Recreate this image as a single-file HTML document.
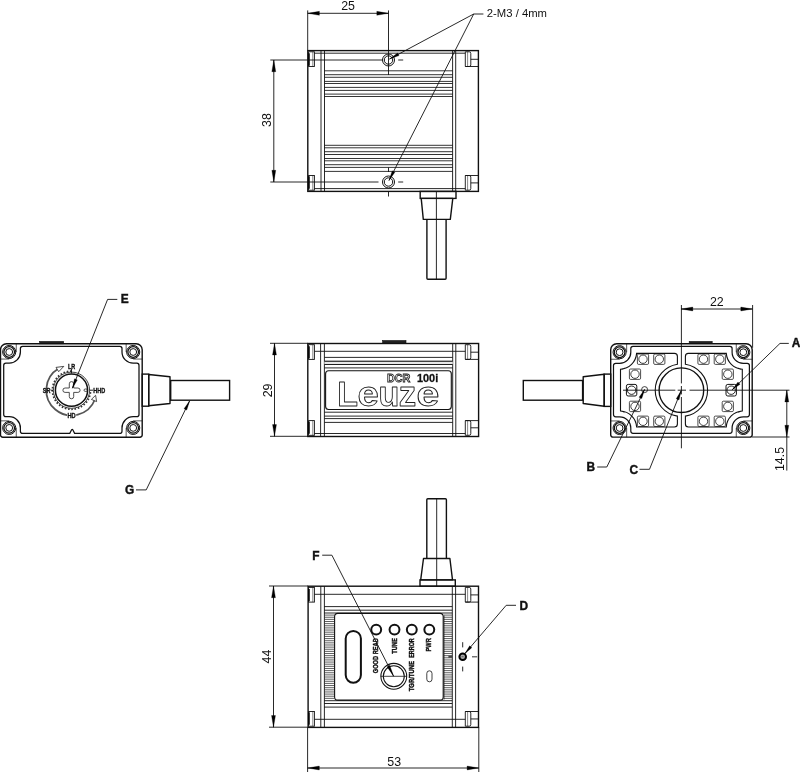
<!DOCTYPE html>
<html>
<head>
<meta charset="utf-8">
<title>DCR 100i dimensioned drawing</title>
<style>
html,body{margin:0;padding:0;background:#fff;}
body{width:800px;height:772px;overflow:hidden;font-family:"Liberation Sans",sans-serif;}
svg{display:block;will-change:transform;}
svg text{font-family:"Liberation Sans",sans-serif;}
</style>
</head>
<body>
<svg width="800" height="772" viewBox="0 0 800 772" shape-rendering="geometricPrecision">
<rect x="0" y="0" width="800" height="772" fill="#fff"/>
<rect x="307.80" y="50.60" width="170.60" height="140.80" rx="0" ry="0" stroke="#111" stroke-width="1.4" fill="none"/>
<line x1="321.00" y1="50.60" x2="321.00" y2="191.40" stroke="#111" stroke-width="0.9" />
<line x1="324.50" y1="50.60" x2="324.50" y2="191.40" stroke="#111" stroke-width="0.9" />
<line x1="452.60" y1="50.60" x2="452.60" y2="191.40" stroke="#111" stroke-width="0.9" />
<line x1="455.70" y1="50.60" x2="455.70" y2="191.40" stroke="#111" stroke-width="0.9" />
<line x1="314.40" y1="53.20" x2="465.30" y2="53.20" stroke="#111" stroke-width="0.9" />
<line x1="314.40" y1="188.60" x2="465.30" y2="188.60" stroke="#111" stroke-width="0.9" />
<line x1="324.50" y1="145.30" x2="452.60" y2="145.30" stroke="#111" stroke-width="0.85" />
<line x1="324.50" y1="147.80" x2="452.60" y2="147.80" stroke="#111" stroke-width="0.85" />
<line x1="324.50" y1="151.70" x2="452.60" y2="151.70" stroke="#111" stroke-width="0.85" />
<line x1="324.50" y1="154.50" x2="452.60" y2="154.50" stroke="#111" stroke-width="0.85" />
<line x1="324.50" y1="158.50" x2="452.60" y2="158.50" stroke="#111" stroke-width="0.85" />
<line x1="324.50" y1="160.80" x2="452.60" y2="160.80" stroke="#111" stroke-width="0.85" />
<line x1="324.50" y1="164.70" x2="452.60" y2="164.70" stroke="#111" stroke-width="0.85" />
<line x1="324.50" y1="167.40" x2="452.60" y2="167.40" stroke="#111" stroke-width="0.85" />
<line x1="324.50" y1="171.40" x2="452.60" y2="171.40" stroke="#111" stroke-width="0.85" />
<line x1="324.50" y1="70.80" x2="452.60" y2="70.80" stroke="#111" stroke-width="0.85" />
<line x1="324.50" y1="74.70" x2="452.60" y2="74.70" stroke="#111" stroke-width="0.85" />
<line x1="324.50" y1="77.30" x2="452.60" y2="77.30" stroke="#111" stroke-width="0.85" />
<line x1="324.50" y1="81.40" x2="452.60" y2="81.40" stroke="#111" stroke-width="0.85" />
<line x1="324.50" y1="83.50" x2="452.60" y2="83.50" stroke="#111" stroke-width="0.85" />
<line x1="324.50" y1="87.40" x2="452.60" y2="87.40" stroke="#111" stroke-width="0.85" />
<line x1="324.50" y1="90.40" x2="452.60" y2="90.40" stroke="#111" stroke-width="0.85" />
<line x1="324.50" y1="94.10" x2="452.60" y2="94.10" stroke="#111" stroke-width="0.85" />
<line x1="324.50" y1="96.50" x2="452.60" y2="96.50" stroke="#111" stroke-width="0.85" />
<rect x="308.60" y="51.80" width="5.80" height="14.70" rx="0" ry="0" stroke="#111" stroke-width="0.9" fill="none"/>
<line x1="309.00" y1="53.30" x2="309.00" y2="65.70" stroke="#000" stroke-width="1.5" />
<line x1="312.80" y1="51.80" x2="312.80" y2="66.50" stroke="#111" stroke-width="0.5" />
<path d="M465.3,51.80 H469.2 Q470.8,51.80 470.8,53.40 V64.90 Q470.8,66.50 469.2,66.50 H465.3 Z" stroke="#111" stroke-width="0.9" fill="none" />
<line x1="467.60" y1="51.80" x2="467.60" y2="66.50" stroke="#111" stroke-width="0.5" />
<line x1="470.80" y1="59.30" x2="478.40" y2="59.30" stroke="#111" stroke-width="0.9" />
<line x1="465.30" y1="66.50" x2="478.40" y2="66.50" stroke="#111" stroke-width="0.9" />
<rect x="308.60" y="175.50" width="5.80" height="14.70" rx="0" ry="0" stroke="#111" stroke-width="0.9" fill="none"/>
<line x1="309.00" y1="176.30" x2="309.00" y2="188.70" stroke="#000" stroke-width="1.5" />
<line x1="312.80" y1="175.50" x2="312.80" y2="190.20" stroke="#111" stroke-width="0.5" />
<path d="M465.3,175.50 H469.2 Q470.8,175.50 470.8,177.10 V188.60 Q470.8,190.20 469.2,190.20 H465.3 Z" stroke="#111" stroke-width="0.9" fill="none" />
<line x1="467.60" y1="175.50" x2="467.60" y2="190.20" stroke="#111" stroke-width="0.5" />
<line x1="470.80" y1="182.90" x2="478.40" y2="182.90" stroke="#111" stroke-width="0.9" />
<line x1="465.30" y1="175.50" x2="478.40" y2="175.50" stroke="#111" stroke-width="0.9" />
<circle cx="388.50" cy="60.00" r="6.00" stroke="#111" stroke-width="1.0" fill="none"/>
<circle cx="388.50" cy="60.00" r="4.20" stroke="#111" stroke-width="1.0" fill="none"/>
<line x1="398.20" y1="60.00" x2="403.20" y2="60.00" stroke="#111" stroke-width="0.9" />
<circle cx="388.50" cy="182.00" r="6.00" stroke="#111" stroke-width="1.0" fill="none"/>
<circle cx="388.50" cy="182.00" r="4.20" stroke="#111" stroke-width="1.0" fill="none"/>
<line x1="398.20" y1="182.00" x2="403.20" y2="182.00" stroke="#111" stroke-width="0.9" />
<line x1="388.50" y1="10.40" x2="388.50" y2="75.00" stroke="#111" stroke-width="0.9" />
<line x1="388.50" y1="167.50" x2="388.50" y2="172.00" stroke="#111" stroke-width="0.9" />
<line x1="388.50" y1="191.40" x2="388.50" y2="196.50" stroke="#111" stroke-width="0.9" />
<line x1="307.70" y1="10.40" x2="307.70" y2="50.60" stroke="#111" stroke-width="0.9" />
<line x1="270.30" y1="60.00" x2="382.40" y2="60.00" stroke="#111" stroke-width="0.9" />
<line x1="270.30" y1="182.00" x2="378.50" y2="182.00" stroke="#111" stroke-width="0.9" />
<line x1="307.70" y1="13.30" x2="388.50" y2="13.30" stroke="#111" stroke-width="0.9" />
<polygon points="307.70,13.30 319.40,11.35 319.40,15.25" fill="#000" stroke="#000" stroke-width="0.3"/>
<polygon points="388.50,13.30 376.80,15.25 376.80,11.35" fill="#000" stroke="#000" stroke-width="0.3"/>
<text x="348.10" y="10.40" font-size="12.4" text-anchor="middle" fill="#111" >25</text>
<line x1="273.80" y1="60.00" x2="273.80" y2="182.00" stroke="#111" stroke-width="0.9" />
<polygon points="273.80,60.00 275.75,71.70 271.85,71.70" fill="#000" stroke="#000" stroke-width="0.3"/>
<polygon points="273.80,182.00 271.85,170.30 275.75,170.30" fill="#000" stroke="#000" stroke-width="0.3"/>
<text x="271.00" y="120.00" font-size="12.4" text-anchor="middle" fill="#111" transform="rotate(-90 271.00 120.00)" >38</text>
<line x1="483.40" y1="14.00" x2="473.70" y2="14.00" stroke="#111" stroke-width="0.9" />
<line x1="473.70" y1="14.00" x2="389.50" y2="59.00" stroke="#111" stroke-width="0.9" />
<polygon points="389.50,59.00 397.61,52.96 399.03,55.61" fill="#000" stroke="#000" stroke-width="0.3"/>
<line x1="473.70" y1="14.00" x2="389.00" y2="180.50" stroke="#111" stroke-width="0.9" />
<polygon points="389.00,180.50 392.20,170.91 394.87,172.27" fill="#000" stroke="#000" stroke-width="0.3"/>
<text x="486.80" y="17.45" font-size="11.6" text-anchor="start" fill="#111" textLength="60.2" lengthAdjust="spacingAndGlyphs" >2-M3 / 4mm</text>
<rect x="420.20" y="191.40" width="35.80" height="7.00" rx="0" ry="0" stroke="#111" stroke-width="1.4" fill="none"/>
<polygon points="421.20,198.40 452.80,198.40 450.30,219.40 423.30,219.40" stroke="#111" stroke-width="1.4" fill="none" stroke-linejoin="round"/>
<path d="M426.9,219.4 V278.3 Q426.9,279.3 427.9,279.3 H445.1 Q446.1,279.3 446.1,278.3 V219.4" stroke="#111" stroke-width="1.4" fill="none" />
<line x1="436.40" y1="191.40" x2="436.40" y2="279.30" stroke="#111" stroke-width="0.9" />
<rect x="382.60" y="340.50" width="23.40" height="3.00" rx="0" ry="0" stroke="#111" stroke-width="0.6" fill="#222"/>
<rect x="307.80" y="343.50" width="170.80" height="93.00" rx="0" ry="0" stroke="#111" stroke-width="1.4" fill="none"/>
<line x1="320.60" y1="343.50" x2="320.60" y2="436.50" stroke="#111" stroke-width="0.9" />
<line x1="324.40" y1="343.50" x2="324.40" y2="436.50" stroke="#111" stroke-width="0.9" />
<line x1="452.70" y1="343.50" x2="452.70" y2="436.50" stroke="#111" stroke-width="0.9" />
<line x1="455.80" y1="343.50" x2="455.80" y2="436.50" stroke="#111" stroke-width="0.9" />
<line x1="324.40" y1="357.40" x2="452.70" y2="357.40" stroke="#111" stroke-width="0.9" />
<line x1="324.40" y1="361.30" x2="452.70" y2="361.30" stroke="#111" stroke-width="0.9" />
<line x1="324.40" y1="364.50" x2="452.70" y2="364.50" stroke="#111" stroke-width="0.9" />
<line x1="324.40" y1="367.90" x2="452.70" y2="367.90" stroke="#111" stroke-width="0.9" />
<line x1="324.40" y1="412.20" x2="452.70" y2="412.20" stroke="#111" stroke-width="0.9" />
<line x1="324.40" y1="416.10" x2="452.70" y2="416.10" stroke="#111" stroke-width="0.9" />
<line x1="324.40" y1="418.60" x2="452.70" y2="418.60" stroke="#111" stroke-width="0.9" />
<line x1="324.40" y1="422.40" x2="452.70" y2="422.40" stroke="#111" stroke-width="0.9" />
<rect x="324.40" y="361.30" width="128.30" height="3.20" rx="0" ry="0" stroke="none" stroke-width="0" fill="#e8e8e8"/>
<line x1="324.40" y1="361.30" x2="452.70" y2="361.30" stroke="#111" stroke-width="0.9" />
<line x1="324.40" y1="364.50" x2="452.70" y2="364.50" stroke="#111" stroke-width="0.9" />
<line x1="314.40" y1="351.30" x2="465.30" y2="351.30" stroke="#111" stroke-width="0.9" />
<line x1="314.40" y1="433.50" x2="465.30" y2="433.50" stroke="#111" stroke-width="0.9" />
<rect x="308.60" y="344.70" width="5.80" height="14.70" rx="0" ry="0" stroke="#111" stroke-width="0.9" fill="none"/>
<line x1="309.00" y1="346.20" x2="309.00" y2="358.60" stroke="#000" stroke-width="1.5" />
<line x1="312.80" y1="344.70" x2="312.80" y2="359.40" stroke="#111" stroke-width="0.5" />
<path d="M465.3,344.70 H469.2 Q470.8,344.70 470.8,346.30 V357.80 Q470.8,359.40 469.2,359.40 H465.3 Z" stroke="#111" stroke-width="0.9" fill="none" />
<line x1="467.60" y1="344.70" x2="467.60" y2="359.40" stroke="#111" stroke-width="0.5" />
<line x1="470.80" y1="352.20" x2="478.60" y2="352.20" stroke="#111" stroke-width="0.9" />
<line x1="465.30" y1="359.40" x2="478.60" y2="359.40" stroke="#111" stroke-width="0.9" />
<rect x="308.60" y="420.60" width="5.80" height="14.70" rx="0" ry="0" stroke="#111" stroke-width="0.9" fill="none"/>
<line x1="309.00" y1="421.40" x2="309.00" y2="433.80" stroke="#000" stroke-width="1.5" />
<line x1="312.80" y1="420.60" x2="312.80" y2="435.30" stroke="#111" stroke-width="0.5" />
<path d="M465.3,420.60 H469.2 Q470.8,420.60 470.8,422.20 V433.70 Q470.8,435.30 469.2,435.30 H465.3 Z" stroke="#111" stroke-width="0.9" fill="none" />
<line x1="467.60" y1="420.60" x2="467.60" y2="435.30" stroke="#111" stroke-width="0.5" />
<line x1="470.80" y1="427.80" x2="478.60" y2="427.80" stroke="#111" stroke-width="0.9" />
<line x1="465.30" y1="420.60" x2="478.60" y2="420.60" stroke="#111" stroke-width="0.9" />
<rect x="325.60" y="370.80" width="125.70" height="38.70" rx="3" ry="3" stroke="#111" stroke-width="1.1" fill="none"/>
<text x="337.18" y="405.75" font-size="35.0" font-weight="bold" textLength="20.72" lengthAdjust="spacingAndGlyphs" fill="#fff" stroke="#222" stroke-width="0.9" stroke-linejoin="round">L</text>
<text x="357.46" y="405.75" font-size="35.0" font-weight="bold" textLength="21.30" lengthAdjust="spacingAndGlyphs" fill="#fff" stroke="#222" stroke-width="0.9" stroke-linejoin="round">e</text>
<text x="378.53" y="405.75" font-size="35.0" font-weight="bold" textLength="20.87" lengthAdjust="spacingAndGlyphs" fill="#fff" stroke="#222" stroke-width="0.9" stroke-linejoin="round">u</text>
<text x="398.75" y="405.75" font-size="35.0" font-weight="bold" textLength="17.45" lengthAdjust="spacingAndGlyphs" fill="#fff" stroke="#222" stroke-width="0.9" stroke-linejoin="round">z</text>
<text x="416.45" y="405.75" font-size="35.0" font-weight="bold" textLength="22.80" lengthAdjust="spacingAndGlyphs" fill="#fff" stroke="#222" stroke-width="0.9" stroke-linejoin="round">e</text>
<text x="387.0" y="382.1" font-size="11.4" font-weight="bold" textLength="23.4" lengthAdjust="spacingAndGlyphs" fill="#fff" stroke="#222" stroke-width="0.85">DCR</text>
<text x="417.0" y="382.1" font-size="11.4" font-weight="bold" textLength="21.2" lengthAdjust="spacingAndGlyphs" fill="#111" stroke="#111" stroke-width="0.3">100i</text>
<line x1="270.00" y1="343.30" x2="307.80" y2="343.30" stroke="#111" stroke-width="0.9" />
<line x1="270.00" y1="436.30" x2="307.80" y2="436.30" stroke="#111" stroke-width="0.9" />
<line x1="274.50" y1="343.30" x2="274.50" y2="436.30" stroke="#111" stroke-width="0.9" />
<polygon points="274.50,343.30 276.45,355.00 272.55,355.00" fill="#000" stroke="#000" stroke-width="0.3"/>
<polygon points="274.50,436.30 272.55,424.60 276.45,424.60" fill="#000" stroke="#000" stroke-width="0.3"/>
<text x="272.20" y="390.40" font-size="12.4" text-anchor="middle" fill="#111" transform="rotate(-90 272.20 390.40)" >29</text>
<rect x="39.60" y="341.40" width="24.10" height="2.40" rx="0" ry="0" stroke="#111" stroke-width="0.6" fill="#222"/>
<path d="M6.50,343.80 H136.20 A6.0 6.0 0 0 1 142.20,349.80 V434.90 A2.3 2.3 0 0 1 139.90,437.20 H2.80 A2.3 2.3 0 0 1 0.50,434.90 V349.80 A6.0 6.0 0 0 1 6.50,343.80 Z" stroke="#111" stroke-width="1.4" fill="none" />
<path d="M22.60,346.40 H119.80 Q122.00,346.40 122.00,348.60 V352.00 A11.2 11.2 0 0 0 133.20,363.20 H136.80 Q139.00,363.20 139.00,365.40 V414.50 Q139.00,416.70 136.80,416.70 H133.20 A11.2 11.2 0 0 0 122.00,427.90 V431.20 Q122.00,433.40 119.80,433.40 H74.60 L72.80,429.80 Q72.20,429.00 71.60,429.80 L69.80,433.40 H22.60 Q20.40,433.40 20.40,431.20 V427.90 A11.2 11.2 0 0 0 9.20,416.70 H5.90 Q3.70,416.70 3.70,414.50 V365.40 Q3.70,363.20 5.90,363.20 H9.20 A11.2 11.2 0 0 0 20.40,352.00 V348.60 Q20.40,346.40 22.60,346.40 Z" stroke="#111" stroke-width="1.25" fill="none" />
<line x1="16.25" y1="343.80" x2="16.25" y2="352.00" stroke="#111" stroke-width="0.7" />
<line x1="0.50" y1="359.05" x2="9.20" y2="359.05" stroke="#111" stroke-width="0.7" />
<circle cx="9.20" cy="352.00" r="6.55" stroke="#111" stroke-width="1.0" fill="none"/>
<circle cx="9.20" cy="352.00" r="5.30" stroke="#111" stroke-width="1.25" fill="none"/>
<circle cx="9.20" cy="352.00" r="3.40" stroke="#111" stroke-width="1.0" fill="none"/>
<line x1="16.25" y1="437.20" x2="16.25" y2="427.90" stroke="#111" stroke-width="0.7" />
<line x1="0.50" y1="420.85" x2="9.20" y2="420.85" stroke="#111" stroke-width="0.7" />
<circle cx="9.20" cy="427.90" r="6.55" stroke="#111" stroke-width="1.0" fill="none"/>
<circle cx="9.20" cy="427.90" r="5.30" stroke="#111" stroke-width="1.25" fill="none"/>
<circle cx="9.20" cy="427.90" r="3.40" stroke="#111" stroke-width="1.0" fill="none"/>
<line x1="126.15" y1="343.80" x2="126.15" y2="352.00" stroke="#111" stroke-width="0.7" />
<line x1="142.20" y1="359.05" x2="133.20" y2="359.05" stroke="#111" stroke-width="0.7" />
<circle cx="133.20" cy="352.00" r="6.55" stroke="#111" stroke-width="1.0" fill="none"/>
<circle cx="133.20" cy="352.00" r="5.30" stroke="#111" stroke-width="1.25" fill="none"/>
<circle cx="133.20" cy="352.00" r="3.40" stroke="#111" stroke-width="1.0" fill="none"/>
<line x1="126.15" y1="437.20" x2="126.15" y2="427.90" stroke="#111" stroke-width="0.7" />
<line x1="142.20" y1="420.85" x2="133.20" y2="420.85" stroke="#111" stroke-width="0.7" />
<circle cx="133.20" cy="427.90" r="6.55" stroke="#111" stroke-width="1.0" fill="none"/>
<circle cx="133.20" cy="427.90" r="5.30" stroke="#111" stroke-width="1.25" fill="none"/>
<circle cx="133.20" cy="427.90" r="3.40" stroke="#111" stroke-width="1.0" fill="none"/>
<path d="M71.50,371.10 A19.1 19.1 0 1 0 90.60,390.20" stroke="#333" stroke-width="1.7" fill="none" stroke-dasharray="1.6 1.7"/>
<circle cx="71.50" cy="390.20" r="18.10" stroke="#111" stroke-width="0.8" fill="#fff"/>
<circle cx="71.50" cy="390.20" r="16.10" stroke="#111" stroke-width="1.5" fill="none"/>
<path d="M58.52,368.60 A25.2 25.2 0 1 0 95.03,399.23" stroke="#555" stroke-width="1.7" fill="none" />
<rect x="67.00" y="412.40" width="9.20" height="5.80" rx="0" ry="0" stroke="none" stroke-width="0" fill="#fff"/>
<polygon points="63.80,366.40 56.00,367.40 58.70,371.70" stroke="#222" stroke-width="0.8" fill="#fff" stroke-linejoin="round"/>
<polygon points="95.60,395.30 91.40,399.40 96.60,401.60" stroke="#222" stroke-width="0.8" fill="#fff" stroke-linejoin="round"/>
<line x1="71.50" y1="369.00" x2="71.50" y2="373.40" stroke="#111" stroke-width="0.9" />
<line x1="89.60" y1="390.20" x2="93.20" y2="390.20" stroke="#111" stroke-width="0.9" />
<line x1="50.60" y1="390.20" x2="53.00" y2="390.20" stroke="#111" stroke-width="0.9" />
<text x="71.60" y="368.60" font-size="7.2" font-weight="bold" text-anchor="middle" fill="#111" textLength="7.2" lengthAdjust="spacingAndGlyphs" stroke="#111" stroke-width="0.35">LR</text>
<text x="46.60" y="392.80" font-size="7.2" font-weight="bold" text-anchor="middle" fill="#111" textLength="7.6" lengthAdjust="spacingAndGlyphs" stroke="#111" stroke-width="0.35">SR</text>
<text x="71.60" y="417.60" font-size="7.2" font-weight="bold" text-anchor="middle" fill="#111" textLength="8.2" lengthAdjust="spacingAndGlyphs" stroke="#111" stroke-width="0.35">HD</text>
<text x="99.20" y="392.80" font-size="7.2" font-weight="bold" text-anchor="middle" fill="#111" textLength="12.0" lengthAdjust="spacingAndGlyphs" stroke="#111" stroke-width="0.35">HHD</text>
<path d="M69.3,383.79999999999995 A2.2 2.2 0 0 1 73.7,383.79999999999995 V388.0 H77.89999999999999 A2.2 2.2 0 0 1 77.89999999999999,392.4 H73.7 V396.6 A2.2 2.2 0 0 1 69.3,396.6 V392.4 H65.1 A2.2 2.2 0 0 1 65.1,388.0 H69.3 Z" stroke="#222" stroke-width="0.8" fill="none" />
<rect x="84.00" y="389.00" width="3.40" height="2.40" rx="1.2" ry="1.2" stroke="#111" stroke-width="0.7" fill="none"/>
<rect x="142.20" y="374.10" width="6.50" height="32.10" rx="0" ry="0" stroke="#111" stroke-width="1.4" fill="none"/>
<polygon points="148.70,374.50 170.00,376.80 170.00,403.50 148.70,405.80" stroke="#111" stroke-width="1.4" fill="none" stroke-linejoin="round"/>
<rect x="170.70" y="380.50" width="58.90" height="19.70" rx="0" ry="0" stroke="#111" stroke-width="1.4" fill="none"/>
<line x1="117.30" y1="299.40" x2="107.60" y2="299.40" stroke="#111" stroke-width="0.9" />
<line x1="107.60" y1="299.40" x2="72.40" y2="388.20" stroke="#111" stroke-width="0.9" />
<polygon points="72.40,388.20 74.52,378.82 77.31,379.93" fill="#000" stroke="#000" stroke-width="0.3"/>
<text x="124.60" y="302.80" font-size="11.9" font-weight="bold" text-anchor="middle" fill="#111" stroke="#111" stroke-width="0.4">E</text>
<line x1="136.00" y1="489.90" x2="146.20" y2="489.90" stroke="#111" stroke-width="0.9" />
<line x1="146.20" y1="489.90" x2="189.60" y2="400.90" stroke="#111" stroke-width="0.9" />
<polygon points="189.60,400.90 186.75,410.08 184.06,408.76" fill="#000" stroke="#000" stroke-width="0.3"/>
<text x="129.50" y="494.00" font-size="11.9" font-weight="bold" text-anchor="middle" fill="#111" stroke="#111" stroke-width="0.4">G</text>
<rect x="689.20" y="341.40" width="23.00" height="2.30" rx="0" ry="0" stroke="#111" stroke-width="0.6" fill="#222"/>
<path d="M616.70,343.70 H746.20 A6.0 6.0 0 0 1 752.20,349.70 V434.80 A2.3 2.3 0 0 1 749.90,437.10 H613.00 A2.3 2.3 0 0 1 610.70,434.80 V349.70 A6.0 6.0 0 0 1 616.70,343.70 Z" stroke="#111" stroke-width="1.4" fill="none" />
<path d="M633.00,346.40 H729.90 Q732.10,346.40 732.10,348.60 V352.20 A11.2 11.2 0 0 0 743.30,363.40 H747.20 Q749.40,363.40 749.40,365.60 V414.60 Q749.40,416.80 747.20,416.80 H743.30 A11.2 11.2 0 0 0 732.10,428.00 V431.10 Q732.10,433.30 729.90,433.30 H633.00 Q630.80,433.30 630.80,431.10 V428.00 A11.2 11.2 0 0 0 619.60,416.80 H615.70 Q613.50,416.80 613.50,414.60 V365.60 Q613.50,363.40 615.70,363.40 H619.60 A11.2 11.2 0 0 0 630.80,352.20 V348.60 Q630.80,346.40 633.00,346.40 Z" stroke="#111" stroke-width="1.2" fill="none" />
<line x1="626.65" y1="343.70" x2="626.65" y2="352.20" stroke="#111" stroke-width="0.7" />
<line x1="610.70" y1="359.25" x2="619.60" y2="359.25" stroke="#111" stroke-width="0.7" />
<circle cx="619.60" cy="352.20" r="6.55" stroke="#111" stroke-width="1.0" fill="none"/>
<circle cx="619.60" cy="352.20" r="5.30" stroke="#111" stroke-width="1.25" fill="none"/>
<circle cx="619.60" cy="352.20" r="3.40" stroke="#111" stroke-width="1.0" fill="none"/>
<line x1="626.65" y1="437.10" x2="626.65" y2="428.00" stroke="#111" stroke-width="0.7" />
<line x1="610.70" y1="420.95" x2="619.60" y2="420.95" stroke="#111" stroke-width="0.7" />
<circle cx="619.60" cy="428.00" r="6.55" stroke="#111" stroke-width="1.0" fill="none"/>
<circle cx="619.60" cy="428.00" r="5.30" stroke="#111" stroke-width="1.25" fill="none"/>
<circle cx="619.60" cy="428.00" r="3.40" stroke="#111" stroke-width="1.0" fill="none"/>
<line x1="736.25" y1="343.70" x2="736.25" y2="352.20" stroke="#111" stroke-width="0.7" />
<line x1="752.20" y1="359.25" x2="743.30" y2="359.25" stroke="#111" stroke-width="0.7" />
<circle cx="743.30" cy="352.20" r="6.55" stroke="#111" stroke-width="1.0" fill="none"/>
<circle cx="743.30" cy="352.20" r="5.30" stroke="#111" stroke-width="1.25" fill="none"/>
<circle cx="743.30" cy="352.20" r="3.40" stroke="#111" stroke-width="1.0" fill="none"/>
<line x1="736.25" y1="437.10" x2="736.25" y2="428.00" stroke="#111" stroke-width="0.7" />
<line x1="752.20" y1="420.95" x2="743.30" y2="420.95" stroke="#111" stroke-width="0.7" />
<circle cx="743.30" cy="428.00" r="6.55" stroke="#111" stroke-width="1.0" fill="none"/>
<circle cx="743.30" cy="428.00" r="5.30" stroke="#111" stroke-width="1.25" fill="none"/>
<circle cx="743.30" cy="428.00" r="3.40" stroke="#111" stroke-width="1.0" fill="none"/>
<path d="M677.40,364.31 V356.40 Q677.40,353.40 674.40,353.40 H636.60 A17.0 17.0 0 0 1 620.50,369.20 V411.00 A17.0 17.0 0 0 1 636.60,427.00 H674.40 Q677.40,427.00 677.40,424.00 V416.09 A26.2 26.2 0 0 1 677.40,364.31 Z" stroke="#111" stroke-width="1.1" fill="none" />
<path d="M685.40,364.31 V356.40 Q685.40,353.40 688.40,353.40 H726.30 A17.0 17.0 0 0 0 742.30,369.20 V411.00 A17.0 17.0 0 0 0 726.30,427.00 H688.40 Q685.40,427.00 685.40,424.00 V416.09 A26.2 26.2 0 0 0 685.40,364.31 Z" stroke="#111" stroke-width="1.1" fill="none" />
<circle cx="681.40" cy="390.20" r="22.30" stroke="#111" stroke-width="1.35" fill="none"/>
<line x1="621.50" y1="369.60" x2="624.50" y2="368.00" stroke="#111" stroke-width="0.6" />
<line x1="621.50" y1="411.00" x2="624.50" y2="412.60" stroke="#111" stroke-width="0.6" />
<line x1="741.30" y1="369.60" x2="738.30" y2="368.00" stroke="#111" stroke-width="0.6" />
<line x1="741.30" y1="411.00" x2="738.30" y2="412.60" stroke="#111" stroke-width="0.6" />
<rect x="637.40" y="354.00" width="11.20" height="10.40" rx="1.2" ry="1.2" stroke="#111" stroke-width="0.75" fill="none"/>
<circle cx="643.00" cy="359.20" r="4.20" stroke="#111" stroke-width="0.8" fill="none"/>
<rect x="637.40" y="416.10" width="11.20" height="10.40" rx="1.2" ry="1.2" stroke="#111" stroke-width="0.75" fill="none"/>
<circle cx="643.00" cy="421.30" r="4.20" stroke="#111" stroke-width="0.8" fill="none"/>
<rect x="714.20" y="354.00" width="11.20" height="10.40" rx="1.2" ry="1.2" stroke="#111" stroke-width="0.75" fill="none"/>
<circle cx="719.80" cy="359.20" r="4.20" stroke="#111" stroke-width="0.8" fill="none"/>
<rect x="714.20" y="416.10" width="11.20" height="10.40" rx="1.2" ry="1.2" stroke="#111" stroke-width="0.75" fill="none"/>
<circle cx="719.80" cy="421.30" r="4.20" stroke="#111" stroke-width="0.8" fill="none"/>
<rect x="653.70" y="354.00" width="11.20" height="10.40" rx="1.2" ry="1.2" stroke="#111" stroke-width="0.75" fill="none"/>
<circle cx="659.30" cy="359.20" r="4.20" stroke="#111" stroke-width="0.8" fill="none"/>
<rect x="653.70" y="416.10" width="11.20" height="10.40" rx="1.2" ry="1.2" stroke="#111" stroke-width="0.75" fill="none"/>
<circle cx="659.30" cy="421.30" r="4.20" stroke="#111" stroke-width="0.8" fill="none"/>
<rect x="697.90" y="354.00" width="11.20" height="10.40" rx="1.2" ry="1.2" stroke="#111" stroke-width="0.75" fill="none"/>
<circle cx="703.50" cy="359.20" r="4.20" stroke="#111" stroke-width="0.8" fill="none"/>
<rect x="697.90" y="416.10" width="11.20" height="10.40" rx="1.2" ry="1.2" stroke="#111" stroke-width="0.75" fill="none"/>
<circle cx="703.50" cy="421.30" r="4.20" stroke="#111" stroke-width="0.8" fill="none"/>
<rect x="629.40" y="369.00" width="11.20" height="10.40" rx="1.2" ry="1.2" stroke="#111" stroke-width="0.75" fill="none"/>
<circle cx="635.00" cy="374.20" r="4.20" stroke="#111" stroke-width="0.8" fill="none"/>
<rect x="722.20" y="369.00" width="11.20" height="10.40" rx="1.2" ry="1.2" stroke="#111" stroke-width="0.75" fill="none"/>
<circle cx="727.80" cy="374.20" r="4.20" stroke="#111" stroke-width="0.8" fill="none"/>
<rect x="629.40" y="401.20" width="11.20" height="10.40" rx="1.2" ry="1.2" stroke="#111" stroke-width="0.75" fill="none"/>
<circle cx="635.00" cy="406.40" r="4.20" stroke="#111" stroke-width="0.8" fill="none"/>
<rect x="722.20" y="401.20" width="11.20" height="10.40" rx="1.2" ry="1.2" stroke="#111" stroke-width="0.75" fill="none"/>
<circle cx="727.80" cy="406.40" r="4.20" stroke="#111" stroke-width="0.8" fill="none"/>
<rect x="626.40" y="384.40" width="10.40" height="11.60" rx="1.8" ry="1.8" stroke="#111" stroke-width="1.0" fill="none"/>
<circle cx="631.60" cy="390.20" r="4.20" stroke="#111" stroke-width="0.9" fill="none"/>
<rect x="726.00" y="384.40" width="10.40" height="11.60" rx="1.8" ry="1.8" stroke="#111" stroke-width="1.0" fill="none"/>
<circle cx="731.20" cy="390.20" r="4.20" stroke="#111" stroke-width="0.9" fill="none"/>
<circle cx="644.60" cy="389.60" r="3.00" stroke="#111" stroke-width="0.8" fill="none"/>
<line x1="681.40" y1="305.00" x2="681.40" y2="383.40" stroke="#111" stroke-width="0.9" />
<line x1="681.40" y1="386.00" x2="681.40" y2="394.40" stroke="#111" stroke-width="0.9" />
<line x1="681.40" y1="397.00" x2="681.40" y2="448.30" stroke="#111" stroke-width="0.9" />
<line x1="623.00" y1="390.20" x2="675.30" y2="390.20" stroke="#111" stroke-width="0.9" />
<line x1="677.70" y1="390.20" x2="686.00" y2="390.20" stroke="#111" stroke-width="0.9" />
<line x1="689.50" y1="390.20" x2="789.50" y2="390.20" stroke="#111" stroke-width="0.9" />
<line x1="752.00" y1="437.00" x2="789.50" y2="437.00" stroke="#111" stroke-width="0.9" />
<line x1="752.60" y1="305.00" x2="752.60" y2="347.70" stroke="#111" stroke-width="0.9" />
<line x1="681.10" y1="309.00" x2="752.50" y2="309.00" stroke="#111" stroke-width="0.9" />
<polygon points="681.10,309.00 692.80,307.05 692.80,310.95" fill="#000" stroke="#000" stroke-width="0.3"/>
<polygon points="752.50,309.00 740.80,310.95 740.80,307.05" fill="#000" stroke="#000" stroke-width="0.3"/>
<text x="716.80" y="305.70" font-size="12.4" text-anchor="middle" fill="#111" >22</text>
<line x1="786.80" y1="390.20" x2="786.80" y2="437.00" stroke="#111" stroke-width="0.9" />
<polygon points="786.80,390.20 788.75,401.90 784.85,401.90" fill="#000" stroke="#000" stroke-width="0.3"/>
<polygon points="786.80,437.00 784.85,425.30 788.75,425.30" fill="#000" stroke="#000" stroke-width="0.3"/>
<line x1="786.80" y1="437.00" x2="786.80" y2="470.60" stroke="#111" stroke-width="0.9" />
<text x="783.60" y="459.00" font-size="12.4" text-anchor="middle" fill="#111" transform="rotate(-90 783.60 459.00)" >14.5</text>
<line x1="788.80" y1="343.40" x2="780.00" y2="343.40" stroke="#111" stroke-width="0.9" />
<line x1="780.00" y1="343.40" x2="732.20" y2="389.80" stroke="#111" stroke-width="0.9" />
<polygon points="732.20,389.80 737.97,382.11 740.06,384.26" fill="#000" stroke="#000" stroke-width="0.3"/>
<text x="796.00" y="347.00" font-size="11.9" font-weight="bold" text-anchor="middle" fill="#111" stroke="#111" stroke-width="0.4">A</text>
<line x1="597.20" y1="467.00" x2="606.80" y2="467.00" stroke="#111" stroke-width="0.9" />
<line x1="606.80" y1="467.00" x2="644.60" y2="389.40" stroke="#111" stroke-width="0.9" />
<polygon points="644.60,389.40 641.76,398.59 639.07,397.27" fill="#000" stroke="#000" stroke-width="0.3"/>
<text x="590.80" y="470.90" font-size="11.9" font-weight="bold" text-anchor="middle" fill="#111" stroke="#111" stroke-width="0.4">B</text>
<line x1="639.50" y1="469.30" x2="649.50" y2="469.30" stroke="#111" stroke-width="0.9" />
<line x1="649.50" y1="469.30" x2="681.20" y2="390.60" stroke="#111" stroke-width="0.9" />
<polygon points="681.20,390.60 679.02,399.97 676.24,398.84" fill="#000" stroke="#000" stroke-width="0.3"/>
<text x="633.80" y="473.60" font-size="11.9" font-weight="bold" text-anchor="middle" fill="#111" stroke="#111" stroke-width="0.4">C</text>
<rect x="604.20" y="374.10" width="6.50" height="32.30" rx="0" ry="0" stroke="#111" stroke-width="1.4" fill="none"/>
<polygon points="604.20,374.30 583.20,376.80 583.20,403.50 604.20,406.20" stroke="#111" stroke-width="1.4" fill="none" stroke-linejoin="round"/>
<rect x="523.30" y="380.50" width="59.30" height="19.70" rx="0" ry="0" stroke="#111" stroke-width="1.4" fill="none"/>
<path d="M426.8,558.5 V499.8 Q426.8,498.8 427.8,498.8 H445.4 Q446.4,498.8 446.4,499.8 V558.5" stroke="#111" stroke-width="1.4" fill="none" />
<polygon points="423.50,558.50 449.90,558.50 452.50,579.90 420.70,579.90" stroke="#111" stroke-width="1.4" fill="none" stroke-linejoin="round"/>
<rect x="420.00" y="579.90" width="35.30" height="6.30" rx="0" ry="0" stroke="#111" stroke-width="1.4" fill="none"/>
<line x1="436.70" y1="498.80" x2="436.70" y2="586.20" stroke="#111" stroke-width="0.9" />
<rect x="308.10" y="586.20" width="170.40" height="141.20" rx="0" ry="0" stroke="#111" stroke-width="1.4" fill="none"/>
<line x1="320.80" y1="586.20" x2="320.80" y2="727.40" stroke="#111" stroke-width="0.9" />
<line x1="324.40" y1="586.20" x2="324.40" y2="727.40" stroke="#111" stroke-width="0.9" />
<line x1="452.30" y1="586.20" x2="452.30" y2="727.40" stroke="#111" stroke-width="0.9" />
<line x1="455.60" y1="586.20" x2="455.60" y2="727.40" stroke="#111" stroke-width="0.9" />
<line x1="314.40" y1="594.30" x2="465.30" y2="594.30" stroke="#111" stroke-width="0.9" />
<line x1="314.40" y1="719.30" x2="465.30" y2="719.30" stroke="#111" stroke-width="0.9" />
<line x1="324.20" y1="606.60" x2="452.20" y2="606.60" stroke="#111" stroke-width="0.9" />
<line x1="324.20" y1="610.20" x2="452.20" y2="610.20" stroke="#111" stroke-width="0.9" />
<line x1="324.20" y1="613.00" x2="452.20" y2="613.00" stroke="#111" stroke-width="0.9" />
<line x1="324.20" y1="700.70" x2="452.20" y2="700.70" stroke="#111" stroke-width="0.9" />
<line x1="324.20" y1="703.50" x2="452.20" y2="703.50" stroke="#111" stroke-width="0.9" />
<line x1="324.20" y1="707.10" x2="452.20" y2="707.10" stroke="#111" stroke-width="0.9" />
<rect x="308.60" y="587.40" width="5.80" height="14.70" rx="0" ry="0" stroke="#111" stroke-width="0.9" fill="none"/>
<line x1="309.00" y1="588.90" x2="309.00" y2="601.30" stroke="#000" stroke-width="1.5" />
<line x1="312.80" y1="587.40" x2="312.80" y2="602.10" stroke="#111" stroke-width="0.5" />
<path d="M465.3,587.40 H469.2 Q470.8,587.40 470.8,589.00 V600.50 Q470.8,602.10 469.2,602.10 H465.3 Z" stroke="#111" stroke-width="0.9" fill="none" />
<line x1="467.60" y1="587.40" x2="467.60" y2="602.10" stroke="#111" stroke-width="0.5" />
<line x1="470.80" y1="594.90" x2="478.50" y2="594.90" stroke="#111" stroke-width="0.9" />
<line x1="465.30" y1="602.10" x2="478.50" y2="602.10" stroke="#111" stroke-width="0.9" />
<rect x="308.60" y="711.50" width="5.80" height="14.70" rx="0" ry="0" stroke="#111" stroke-width="0.9" fill="none"/>
<line x1="309.00" y1="712.30" x2="309.00" y2="724.70" stroke="#000" stroke-width="1.5" />
<line x1="312.80" y1="711.50" x2="312.80" y2="726.20" stroke="#111" stroke-width="0.5" />
<path d="M465.3,711.50 H469.2 Q470.8,711.50 470.8,713.10 V724.60 Q470.8,726.20 469.2,726.20 H465.3 Z" stroke="#111" stroke-width="0.9" fill="none" />
<line x1="467.60" y1="711.50" x2="467.60" y2="726.20" stroke="#111" stroke-width="0.5" />
<line x1="470.80" y1="718.95" x2="478.50" y2="718.95" stroke="#111" stroke-width="0.9" />
<line x1="465.30" y1="711.50" x2="478.50" y2="711.50" stroke="#111" stroke-width="0.9" />
<line x1="324.40" y1="615.10" x2="334.00" y2="615.10" stroke="#2a2a2a" stroke-width="0.75" />
<line x1="444.00" y1="615.10" x2="452.20" y2="615.10" stroke="#2a2a2a" stroke-width="0.75" />
<line x1="324.40" y1="617.24" x2="334.00" y2="617.24" stroke="#2a2a2a" stroke-width="0.75" />
<line x1="444.00" y1="617.24" x2="452.20" y2="617.24" stroke="#2a2a2a" stroke-width="0.75" />
<line x1="324.40" y1="619.37" x2="334.00" y2="619.37" stroke="#2a2a2a" stroke-width="0.75" />
<line x1="444.00" y1="619.37" x2="452.20" y2="619.37" stroke="#2a2a2a" stroke-width="0.75" />
<line x1="324.40" y1="621.50" x2="334.00" y2="621.50" stroke="#2a2a2a" stroke-width="0.75" />
<line x1="444.00" y1="621.50" x2="452.20" y2="621.50" stroke="#2a2a2a" stroke-width="0.75" />
<line x1="324.40" y1="623.64" x2="334.00" y2="623.64" stroke="#2a2a2a" stroke-width="0.75" />
<line x1="444.00" y1="623.64" x2="452.20" y2="623.64" stroke="#2a2a2a" stroke-width="0.75" />
<line x1="324.40" y1="625.77" x2="334.00" y2="625.77" stroke="#2a2a2a" stroke-width="0.75" />
<line x1="444.00" y1="625.77" x2="452.20" y2="625.77" stroke="#2a2a2a" stroke-width="0.75" />
<line x1="324.40" y1="627.91" x2="334.00" y2="627.91" stroke="#2a2a2a" stroke-width="0.75" />
<line x1="444.00" y1="627.91" x2="452.20" y2="627.91" stroke="#2a2a2a" stroke-width="0.75" />
<line x1="324.40" y1="630.04" x2="334.00" y2="630.04" stroke="#2a2a2a" stroke-width="0.75" />
<line x1="444.00" y1="630.04" x2="452.20" y2="630.04" stroke="#2a2a2a" stroke-width="0.75" />
<line x1="324.40" y1="632.18" x2="334.00" y2="632.18" stroke="#2a2a2a" stroke-width="0.75" />
<line x1="444.00" y1="632.18" x2="452.20" y2="632.18" stroke="#2a2a2a" stroke-width="0.75" />
<line x1="324.40" y1="634.31" x2="334.00" y2="634.31" stroke="#2a2a2a" stroke-width="0.75" />
<line x1="444.00" y1="634.31" x2="452.20" y2="634.31" stroke="#2a2a2a" stroke-width="0.75" />
<line x1="324.40" y1="636.45" x2="334.00" y2="636.45" stroke="#2a2a2a" stroke-width="0.75" />
<line x1="444.00" y1="636.45" x2="452.20" y2="636.45" stroke="#2a2a2a" stroke-width="0.75" />
<line x1="324.40" y1="638.58" x2="334.00" y2="638.58" stroke="#2a2a2a" stroke-width="0.75" />
<line x1="444.00" y1="638.58" x2="452.20" y2="638.58" stroke="#2a2a2a" stroke-width="0.75" />
<line x1="324.40" y1="640.72" x2="334.00" y2="640.72" stroke="#2a2a2a" stroke-width="0.75" />
<line x1="444.00" y1="640.72" x2="452.20" y2="640.72" stroke="#2a2a2a" stroke-width="0.75" />
<line x1="324.40" y1="642.85" x2="334.00" y2="642.85" stroke="#2a2a2a" stroke-width="0.75" />
<line x1="444.00" y1="642.85" x2="452.20" y2="642.85" stroke="#2a2a2a" stroke-width="0.75" />
<line x1="324.40" y1="644.99" x2="334.00" y2="644.99" stroke="#2a2a2a" stroke-width="0.75" />
<line x1="444.00" y1="644.99" x2="452.20" y2="644.99" stroke="#2a2a2a" stroke-width="0.75" />
<line x1="324.40" y1="647.12" x2="334.00" y2="647.12" stroke="#2a2a2a" stroke-width="0.75" />
<line x1="444.00" y1="647.12" x2="452.20" y2="647.12" stroke="#2a2a2a" stroke-width="0.75" />
<line x1="324.40" y1="649.26" x2="334.00" y2="649.26" stroke="#2a2a2a" stroke-width="0.75" />
<line x1="444.00" y1="649.26" x2="452.20" y2="649.26" stroke="#2a2a2a" stroke-width="0.75" />
<line x1="324.40" y1="651.39" x2="334.00" y2="651.39" stroke="#2a2a2a" stroke-width="0.75" />
<line x1="444.00" y1="651.39" x2="452.20" y2="651.39" stroke="#2a2a2a" stroke-width="0.75" />
<line x1="324.40" y1="653.53" x2="334.00" y2="653.53" stroke="#2a2a2a" stroke-width="0.75" />
<line x1="444.00" y1="653.53" x2="452.20" y2="653.53" stroke="#2a2a2a" stroke-width="0.75" />
<line x1="324.40" y1="655.66" x2="334.00" y2="655.66" stroke="#2a2a2a" stroke-width="0.75" />
<line x1="444.00" y1="655.66" x2="452.20" y2="655.66" stroke="#2a2a2a" stroke-width="0.75" />
<line x1="324.40" y1="657.80" x2="334.00" y2="657.80" stroke="#2a2a2a" stroke-width="0.75" />
<line x1="444.00" y1="657.80" x2="452.20" y2="657.80" stroke="#2a2a2a" stroke-width="0.75" />
<line x1="324.40" y1="659.93" x2="334.00" y2="659.93" stroke="#2a2a2a" stroke-width="0.75" />
<line x1="444.00" y1="659.93" x2="452.20" y2="659.93" stroke="#2a2a2a" stroke-width="0.75" />
<line x1="324.40" y1="662.07" x2="334.00" y2="662.07" stroke="#2a2a2a" stroke-width="0.75" />
<line x1="444.00" y1="662.07" x2="452.20" y2="662.07" stroke="#2a2a2a" stroke-width="0.75" />
<line x1="324.40" y1="664.20" x2="334.00" y2="664.20" stroke="#2a2a2a" stroke-width="0.75" />
<line x1="444.00" y1="664.20" x2="452.20" y2="664.20" stroke="#2a2a2a" stroke-width="0.75" />
<line x1="324.40" y1="666.34" x2="334.00" y2="666.34" stroke="#2a2a2a" stroke-width="0.75" />
<line x1="444.00" y1="666.34" x2="452.20" y2="666.34" stroke="#2a2a2a" stroke-width="0.75" />
<line x1="324.40" y1="668.47" x2="334.00" y2="668.47" stroke="#2a2a2a" stroke-width="0.75" />
<line x1="444.00" y1="668.47" x2="452.20" y2="668.47" stroke="#2a2a2a" stroke-width="0.75" />
<line x1="324.40" y1="670.61" x2="334.00" y2="670.61" stroke="#2a2a2a" stroke-width="0.75" />
<line x1="444.00" y1="670.61" x2="452.20" y2="670.61" stroke="#2a2a2a" stroke-width="0.75" />
<line x1="324.40" y1="672.74" x2="334.00" y2="672.74" stroke="#2a2a2a" stroke-width="0.75" />
<line x1="444.00" y1="672.74" x2="452.20" y2="672.74" stroke="#2a2a2a" stroke-width="0.75" />
<line x1="324.40" y1="674.88" x2="334.00" y2="674.88" stroke="#2a2a2a" stroke-width="0.75" />
<line x1="444.00" y1="674.88" x2="452.20" y2="674.88" stroke="#2a2a2a" stroke-width="0.75" />
<line x1="324.40" y1="677.01" x2="334.00" y2="677.01" stroke="#2a2a2a" stroke-width="0.75" />
<line x1="444.00" y1="677.01" x2="452.20" y2="677.01" stroke="#2a2a2a" stroke-width="0.75" />
<line x1="324.40" y1="679.15" x2="334.00" y2="679.15" stroke="#2a2a2a" stroke-width="0.75" />
<line x1="444.00" y1="679.15" x2="452.20" y2="679.15" stroke="#2a2a2a" stroke-width="0.75" />
<line x1="324.40" y1="681.28" x2="334.00" y2="681.28" stroke="#2a2a2a" stroke-width="0.75" />
<line x1="444.00" y1="681.28" x2="452.20" y2="681.28" stroke="#2a2a2a" stroke-width="0.75" />
<line x1="324.40" y1="683.42" x2="334.00" y2="683.42" stroke="#2a2a2a" stroke-width="0.75" />
<line x1="444.00" y1="683.42" x2="452.20" y2="683.42" stroke="#2a2a2a" stroke-width="0.75" />
<line x1="324.40" y1="685.55" x2="334.00" y2="685.55" stroke="#2a2a2a" stroke-width="0.75" />
<line x1="444.00" y1="685.55" x2="452.20" y2="685.55" stroke="#2a2a2a" stroke-width="0.75" />
<line x1="324.40" y1="687.69" x2="334.00" y2="687.69" stroke="#2a2a2a" stroke-width="0.75" />
<line x1="444.00" y1="687.69" x2="452.20" y2="687.69" stroke="#2a2a2a" stroke-width="0.75" />
<line x1="324.40" y1="689.82" x2="334.00" y2="689.82" stroke="#2a2a2a" stroke-width="0.75" />
<line x1="444.00" y1="689.82" x2="452.20" y2="689.82" stroke="#2a2a2a" stroke-width="0.75" />
<line x1="324.40" y1="691.96" x2="334.00" y2="691.96" stroke="#2a2a2a" stroke-width="0.75" />
<line x1="444.00" y1="691.96" x2="452.20" y2="691.96" stroke="#2a2a2a" stroke-width="0.75" />
<line x1="324.40" y1="694.09" x2="334.00" y2="694.09" stroke="#2a2a2a" stroke-width="0.75" />
<line x1="444.00" y1="694.09" x2="452.20" y2="694.09" stroke="#2a2a2a" stroke-width="0.75" />
<line x1="324.40" y1="696.23" x2="334.00" y2="696.23" stroke="#2a2a2a" stroke-width="0.75" />
<line x1="444.00" y1="696.23" x2="452.20" y2="696.23" stroke="#2a2a2a" stroke-width="0.75" />
<line x1="324.40" y1="698.36" x2="334.00" y2="698.36" stroke="#2a2a2a" stroke-width="0.75" />
<line x1="444.00" y1="698.36" x2="452.20" y2="698.36" stroke="#2a2a2a" stroke-width="0.75" />
<line x1="444.00" y1="615.50" x2="444.00" y2="699.50" stroke="#111" stroke-width="0.8" />
<rect x="334.60" y="613.40" width="108.60" height="86.70" rx="3.2" ry="3.2" stroke="#111" stroke-width="1.1" fill="none"/>
<rect x="345.70" y="630.90" width="15.20" height="51.80" rx="7.6" ry="7.6" stroke="#111" stroke-width="2.0" fill="none"/>
<circle cx="376.20" cy="629.60" r="4.95" stroke="#111" stroke-width="2.0" fill="none"/>
<text x="378.40" y="638.20" font-size="7.9" font-weight="bold" text-anchor="end" fill="#111" transform="rotate(-90 378.40 638.20)" textLength="35.0" lengthAdjust="spacingAndGlyphs" stroke="#111" stroke-width="0.45">GOOD READ</text>
<circle cx="394.50" cy="629.60" r="4.95" stroke="#111" stroke-width="2.0" fill="none"/>
<text x="396.70" y="638.20" font-size="7.9" font-weight="bold" text-anchor="end" fill="#111" transform="rotate(-90 396.70 638.20)" textLength="15.6" lengthAdjust="spacingAndGlyphs" stroke="#111" stroke-width="0.45">TUNE</text>
<circle cx="411.80" cy="629.60" r="4.95" stroke="#111" stroke-width="2.0" fill="none"/>
<text x="414.00" y="638.20" font-size="7.9" font-weight="bold" text-anchor="end" fill="#111" transform="rotate(-90 414.00 638.20)" textLength="19.6" lengthAdjust="spacingAndGlyphs" stroke="#111" stroke-width="0.45">ERROR</text>
<circle cx="429.30" cy="629.60" r="4.95" stroke="#111" stroke-width="2.0" fill="none"/>
<text x="431.50" y="638.20" font-size="7.9" font-weight="bold" text-anchor="end" fill="#111" transform="rotate(-90 431.50 638.20)" textLength="13.2" lengthAdjust="spacingAndGlyphs" stroke="#111" stroke-width="0.45">PWR</text>
<text x="413.90" y="661.00" font-size="7.9" font-weight="bold" text-anchor="end" fill="#111" transform="rotate(-90 413.90 661.00)" textLength="30.3" lengthAdjust="spacingAndGlyphs" stroke="#111" stroke-width="0.45">TGR/TUNE</text>
<circle cx="393.80" cy="676.30" r="12.90" stroke="#111" stroke-width="1.05" fill="none"/>
<circle cx="393.80" cy="676.30" r="10.50" stroke="#111" stroke-width="1.05" fill="none"/>
<line x1="380.70" y1="676.30" x2="406.90" y2="676.30" stroke="#111" stroke-width="0.8" />
<rect x="426.80" y="670.80" width="5.20" height="11.00" rx="2.6" ry="2.6" stroke="#111" stroke-width="0.8" fill="none"/>
<circle cx="462.70" cy="656.70" r="3.30" stroke="#000" stroke-width="2.0" fill="#aaa"/>
<line x1="461.60" y1="656.70" x2="463.60" y2="656.70" stroke="#333" stroke-width="0.6" />
<line x1="462.70" y1="642.20" x2="462.70" y2="647.40" stroke="#111" stroke-width="0.9" />
<line x1="462.70" y1="666.60" x2="462.70" y2="671.40" stroke="#111" stroke-width="0.9" />
<line x1="472.00" y1="656.80" x2="477.20" y2="656.80" stroke="#444" stroke-width="1.1" />
<rect x="448.40" y="655.70" width="3.80" height="2.10" rx="0" ry="0" stroke="none" stroke-width="0" fill="#444"/>
<line x1="516.00" y1="605.30" x2="506.20" y2="605.30" stroke="#111" stroke-width="0.9" />
<line x1="506.20" y1="605.30" x2="464.90" y2="653.60" stroke="#111" stroke-width="0.9" />
<polygon points="464.90,653.60 469.68,645.85 471.81,647.67" fill="#000" stroke="#000" stroke-width="0.3"/>
<text x="523.80" y="609.80" font-size="11.9" font-weight="bold" text-anchor="middle" fill="#111" stroke="#111" stroke-width="0.4">D</text>
<line x1="322.20" y1="555.20" x2="331.90" y2="555.20" stroke="#111" stroke-width="0.9" />
<line x1="331.90" y1="555.20" x2="393.60" y2="676.20" stroke="#111" stroke-width="0.9" />
<polygon points="393.60,676.20 387.04,666.64 389.71,665.27" fill="#000" stroke="#000" stroke-width="0.3"/>
<text x="315.90" y="559.50" font-size="11.9" font-weight="bold" text-anchor="middle" fill="#111" stroke="#111" stroke-width="0.4">F</text>
<line x1="269.00" y1="586.00" x2="308.10" y2="586.00" stroke="#111" stroke-width="0.9" />
<line x1="269.00" y1="727.20" x2="308.10" y2="727.20" stroke="#111" stroke-width="0.9" />
<line x1="273.50" y1="586.00" x2="273.50" y2="727.20" stroke="#111" stroke-width="0.9" />
<polygon points="273.50,586.00 275.45,597.70 271.55,597.70" fill="#000" stroke="#000" stroke-width="0.3"/>
<polygon points="273.50,727.20 271.55,715.50 275.45,715.50" fill="#000" stroke="#000" stroke-width="0.3"/>
<text x="270.60" y="656.50" font-size="12.4" text-anchor="middle" fill="#111" transform="rotate(-90 270.60 656.50)" >44</text>
<line x1="307.60" y1="727.40" x2="307.60" y2="772.00" stroke="#111" stroke-width="0.9" />
<line x1="478.80" y1="727.40" x2="478.80" y2="772.00" stroke="#111" stroke-width="0.9" />
<line x1="307.60" y1="768.00" x2="478.80" y2="768.00" stroke="#111" stroke-width="0.9" />
<polygon points="307.60,768.00 319.30,766.05 319.30,769.95" fill="#000" stroke="#000" stroke-width="0.3"/>
<polygon points="478.80,768.00 467.10,769.95 467.10,766.05" fill="#000" stroke="#000" stroke-width="0.3"/>
<text x="394.20" y="765.60" font-size="12.4" text-anchor="middle" fill="#111" >53</text>
</svg>
</body>
</html>
